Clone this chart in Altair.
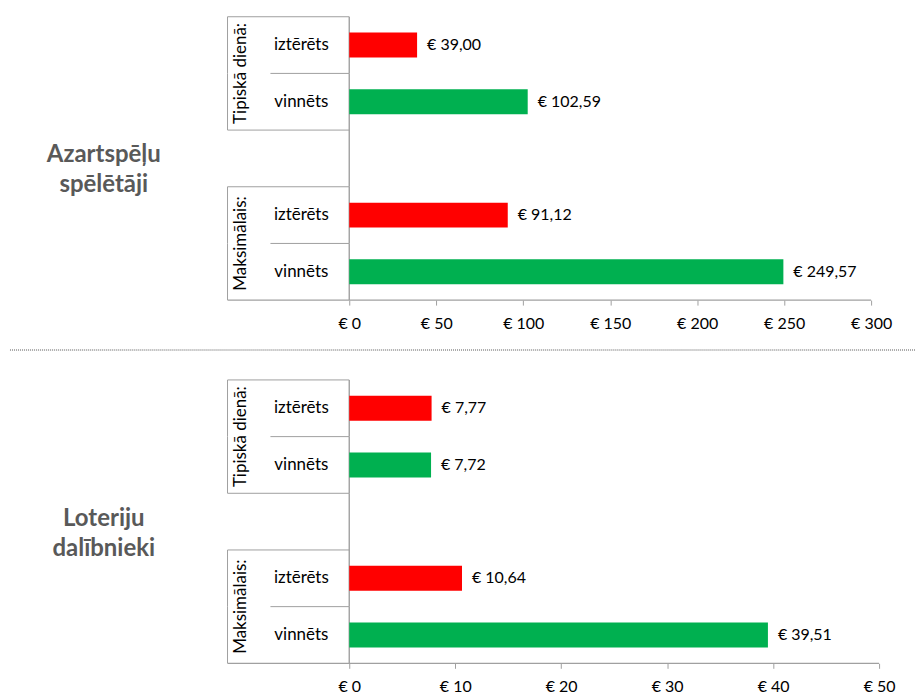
import altair as alt
import pandas as pd

# ---- data ----
slots = ["t_izt", "t_vin", "gap", "m_izt", "m_vin"]
bar_slots = ["t_izt", "t_vin", "m_izt", "m_vin"]
cat_labels = ["iztērēts", "vinnēts", "iztērēts", "vinnēts"]
group_labels = ["Tipiskā dienā:", "Maksimālais:"]
bar_colors = ["#FF0000", "#00B050", "#FF0000", "#00B050"]
gamblers = [39.00, 102.59, 91.12, 249.57]
lottery = [7.77, 7.72, 10.64, 39.51]
top_ticks = [0, 50, 100, 150, 200, 250, 300]
bottom_ticks = [0, 10, 20, 30, 40, 50]
panel_titles = ["Azartspēļu\nspēlētāji", "Loteriju\ndalībnieki"]

GRAY = "#A0A0A0"
FONT = "Lato"
H = 284


def euro(v):
    return "€ " + f"{v:.2f}".replace(".", ",")


def panel(values, ticks, width, title, visible_sep):
    ysc = alt.Scale(domain=slots, paddingInner=0, paddingOuter=0)
    xaxis = alt.Axis(values=ticks, labelExpr="'€ ' + datum.value", title=None,
                     domain=False, grid=False, tickColor=GRAY, tickSize=5,
                     labelFlush=False, labelOverlap=False, labelPadding=10,
                     labelFont=FONT, labelFontSize=16, labelColor="#000000")
    xsc = alt.Scale(domain=[ticks[0], ticks[-1]], nice=False)

    bars_df = pd.DataFrame({"slot": bar_slots, "cat": cat_labels, "value": values,
                            "color": bar_colors, "label": [euro(v) for v in values]})

    bars = alt.Chart(bars_df).mark_bar(height=alt.RelativeBandSize(0.44)).encode(
        x=alt.X("value:Q", scale=xsc, axis=xaxis),
        y=alt.Y("slot:N", scale=ysc, axis=None),
        color=alt.Color("color:N", scale=None),
    )
    vals = alt.Chart(bars_df).mark_text(align="left", baseline="middle", dx=10,
                                         font=FONT, fontSize=16, color="#000000").encode(
        x=alt.X("value:Q", scale=xsc, axis=xaxis),
        y=alt.Y("slot:N", scale=ysc, axis=None),
        text="label:N",
    )
    cats = alt.Chart(bars_df).mark_text(align="center", baseline="middle",
                                         font=FONT, fontSize=17, color="#000000").encode(
        x=alt.value(-48),
        y=alt.Y("slot:N", scale=ysc, axis=None),
        text="cat:N",
    )
    grp_df = pd.DataFrame({"slot": ["t_vin", "m_vin"], "group": group_labels})
    grps = alt.Chart(grp_df).mark_text(align="center", baseline="middle", angle=270,
                                        font=FONT, fontSize=17, color="#000000").encode(
        x=alt.value(-108),
        y=alt.Y("slot:N", scale=ysc, axis=None, bandPosition=0),
        text="group:N",
    )
    long_df = pd.DataFrame({"slot": ["t_izt", "gap", "m_izt"]})
    long_rules = alt.Chart(long_df).mark_rule(color=GRAY, strokeWidth=1).encode(
        x=alt.value(-122), x2=alt.value(0),
        y=alt.Y("slot:N", scale=ysc, axis=None, bandPosition=0),
    )
    short_df = pd.DataFrame({"slot": ["t_vin", "m_vin"]})
    short_rules = alt.Chart(short_df).mark_rule(color=GRAY, strokeWidth=1).encode(
        x=alt.value(-79), x2=alt.value(0),
        y=alt.Y("slot:N", scale=ysc, axis=None, bandPosition=0),
    )
    base_df = pd.DataFrame({"slot": ["m_vin"]})
    base_rule = alt.Chart(base_df).mark_rule(color=GRAY, strokeWidth=1.3).encode(
        x=alt.value(-122), x2=alt.value(width),
        y=alt.Y("slot:N", scale=ysc, axis=None, bandPosition=1),
    )
    vert_df = pd.DataFrame({"slot": bar_slots})
    group_lines = alt.Chart(vert_df).mark_rect(color=GRAY).encode(
        x=alt.value(-122.5), x2=alt.value(-121.5),
        y=alt.Y("slot:N", scale=ysc, axis=None),
    )
    axis_df = pd.DataFrame({"slot": slots})
    axis_line = alt.Chart(axis_df).mark_rect(color=GRAY).encode(
        x=alt.value(-0.7), x2=alt.value(0.7),
        y=alt.Y("slot:N", scale=ysc, axis=None),
    )
    title_df = pd.DataFrame({"slot": ["gap"], "title": [title]})
    ttl = alt.Chart(title_df).mark_text(align="center", baseline="middle", dy=-3,
                                         lineBreak="\n", lineHeight=30,
                                         font=FONT, fontSize=24, fontWeight="bold",
                                         color="#595959").encode(
        x=alt.value(-246),
        y=alt.Y("slot:N", scale=ysc, axis=None),
        text="title:N",
    )
    sep_df = pd.DataFrame({"slot": ["m_vin"]})
    sep = alt.Chart(sep_df).mark_rule(color="#555555", strokeWidth=1, strokeDash=[1, 1],
                                      opacity=1 if visible_sep else 0).encode(
        x=alt.value(-340), x2=alt.value(567),
        y=alt.value(334) if visible_sep else alt.value(0),
    )
    return alt.layer(axis_line, group_lines, long_rules, short_rules, base_rule,
                     bars, vals, cats, grps, ttl, sep).properties(width=width, height=H)


top = panel(gamblers, top_ticks, 523, panel_titles[0], True)
bottom = panel(lottery, bottom_ticks, 531, panel_titles[1], False)

chart = alt.vconcat(top, bottom, spacing=28).properties(
    padding={"left": 1, "top": 7, "right": 0, "bottom": 0}
).configure_view(stroke=None)

chart.save("out.html", embed_options={"renderer": "svg", "actions": False})
